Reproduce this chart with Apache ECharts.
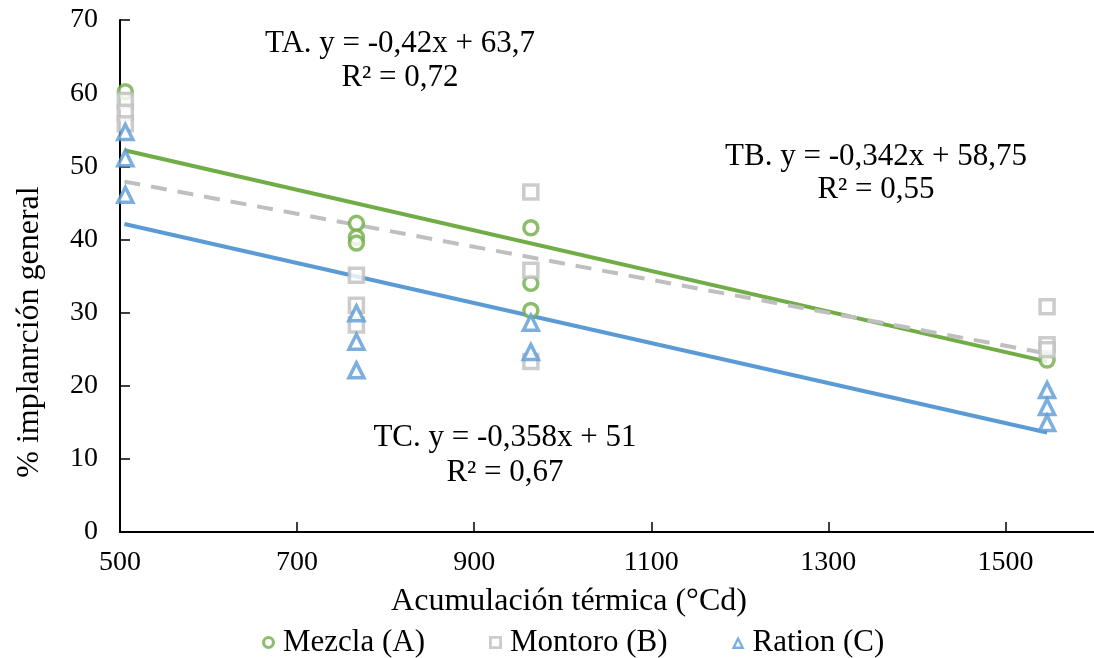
<!DOCTYPE html>
<html>
<head>
<meta charset="utf-8">
<script src="https://cdn.jsdelivr.net/npm/echarts@6/dist/echarts.min.js"></script>
<style>
  html, body { margin: 0; padding: 0; background: #ffffff; }
  #chart { width: 1094px; height: 658px; }
</style>
</head>
<body>
<div id="chart"></div>
<script>
// Observed implantation (%) against thermal accumulation (°Cd), one array per mixture
const mezclaA = [[506, 60.2], [767, 42.2], [767, 40.3], [767, 39.5], [964, 41.6], [964, 34.0], [964, 30.3], [1547, 23.5]];
const montoroB = [[506, 59.0], [506, 57.4], [506, 55.8], [767, 35.1], [767, 31.0], [767, 28.3], [964, 46.5], [964, 35.8], [964, 23.3], [1547, 30.8], [1547, 25.6], [1547, 24.9]];
const rationC = [[506, 54.7], [506, 51.1], [506, 46.1], [767, 29.9], [767, 26.0], [767, 22.1], [964, 28.6], [964, 24.6], [1547, 19.4], [1547, 17.1], [1547, 14.9]];

// Linear trend lines, start and end points
const trendA = [[505, 52.2], [1547, 23.3]];
const trendB = [[505, 47.9], [1547, 24.4]];
const trendC = [[505, 42.1], [1547, 13.6]];

// Equation labels
const eqA = ['TA. y = -0,42x + 63,7', 'R² = 0,72'];
const eqB = ['TB. y = -0,342x + 58,75', 'R² = 0,55'];
const eqC = ['TC. y = -0,358x + 51', 'R² = 0,67'];

const seriesNames = ['Mezcla (A)', 'Montoro (B)', 'Ration (C)'];
const symbols = ['circle', 'rect', 'triangle'];
const colors = ['#70AD47', '#BFBFBF', '#5B9BD5'];
const xTitle = 'Acumulación térmica (°Cd)';
const yTitle = '% implanrción general';

// Hollow legend icons (outline as a filled ring so the stroke stays thick)
const legendIcons = [
  'path://M50,0 A50,50 0 1,1 50,100 A50,50 0 1,1 50,0 Z M50,24 A26,26 0 1,0 50,76 A26,26 0 1,0 50,24 Z',
  'path://M0,0 L100,0 L100,100 L0,100 Z M22,22 L22,78 L78,78 L78,22 Z',
  'path://M50,0 L100,100 L0,100 Z M50,40 L29,81 L71,81 Z'
];

const FONT = '"Liberation Serif", "Times New Roman", serif';

const chart = echarts.init(document.getElementById('chart'), null, { renderer: 'canvas' });

function scatter(name, data, color, symbol, size) {
  return {
    name: name,
    type: 'scatter',
    data: data,
    symbol: symbol,
    symbolSize: size,
    itemStyle: { color: '#ffffff', borderColor: color, borderWidth: 3.5 },
    z: 5
  };
}

function trend(data, color, dashed) {
  return {
    type: 'line',
    data: data,
    symbol: 'none',
    silent: true,
    lineStyle: { color: color, width: 4, type: dashed ? [16, 11] : 'solid' },
    z: 3
  };
}

function textBlock(lines, cx, y1, y2) {
  return [lines[0], lines[1]].map((t, i) => ({
    type: 'text',
    x: cx,
    y: i === 0 ? y1 : y2,
    style: {
      text: t,
      fill: '#000000',
      font: '31px ' + FONT,
      textAlign: 'center',
      textVerticalAlign: 'middle'
    },
    z: 10
  }));
}

chart.setOption({
  animation: false,
  backgroundColor: '#ffffff',
  grid: { left: 120, top: 20, width: 978, height: 512, containLabel: false },
  xAxis: {
    type: 'value',
    min: 500,
    max: 1600,
    interval: 200,
    name: xTitle,
    nameLocation: 'middle',
    nameGap: 54,
    nameTextStyle: { fontFamily: FONT, fontSize: 32, color: '#000000', padding: [0, 76, 0, 0] },
    axisLine: { lineStyle: { color: '#000000', width: 2 } },
    axisTick: { inside: true, length: 10, lineStyle: { color: '#000000', width: 1.5 } },
    axisLabel: {
      fontFamily: FONT, fontSize: 28, color: '#000000', margin: 17,
      showMaxLabel: false,
      formatter: v => String(v)
    },
    splitLine: { show: false }
  },
  yAxis: {
    type: 'value',
    min: 0,
    max: 70,
    interval: 10,
    axisLine: { show: true, lineStyle: { color: '#000000', width: 2 } },
    axisTick: { show: true, inside: true, length: 10, lineStyle: { color: '#000000', width: 1.5 } },
    axisLabel: { fontFamily: FONT, fontSize: 28, color: '#000000', margin: 22 },
    splitLine: { show: false }
  },
  legend: {
    data: seriesNames.map((n, i) => ({
      name: n,
      icon: legendIcons[i],
      itemStyle: { color: colors[i], borderWidth: 0 }
    })),
    top: 622,
    left: 257,
    itemWidth: 13,
    itemHeight: 13,
    itemGap: 64,
    textStyle: { fontFamily: FONT, fontSize: 31, color: '#000000', padding: [0, 0, 0, 3] }
  },
  series: [
    trend(trendA, colors[0], false),
    trend(trendB, colors[1], true),
    trend(trendC, colors[2], false),
    scatter(seriesNames[0], mezclaA, colors[0], symbols[0], 14),
    scatter(seriesNames[1], montoroB, colors[1], symbols[1], 14),
    scatter(seriesNames[2], rationC, colors[2], symbols[2], 15)
  ],
  graphic: [].concat(
    [{
      type: 'text',
      x: 30,
      y: 332,
      rotation: Math.PI / 2,
      style: {
        text: yTitle,
        fill: '#000000',
        font: '32px ' + FONT,
        textAlign: 'center',
        textVerticalAlign: 'middle'
      }
    }],
    textBlock(eqA, 400, 44, 78),
    textBlock(eqB, 876, 157, 190),
    textBlock(eqC, 505, 438, 473)
  )
});
</script>
</body>
</html>
